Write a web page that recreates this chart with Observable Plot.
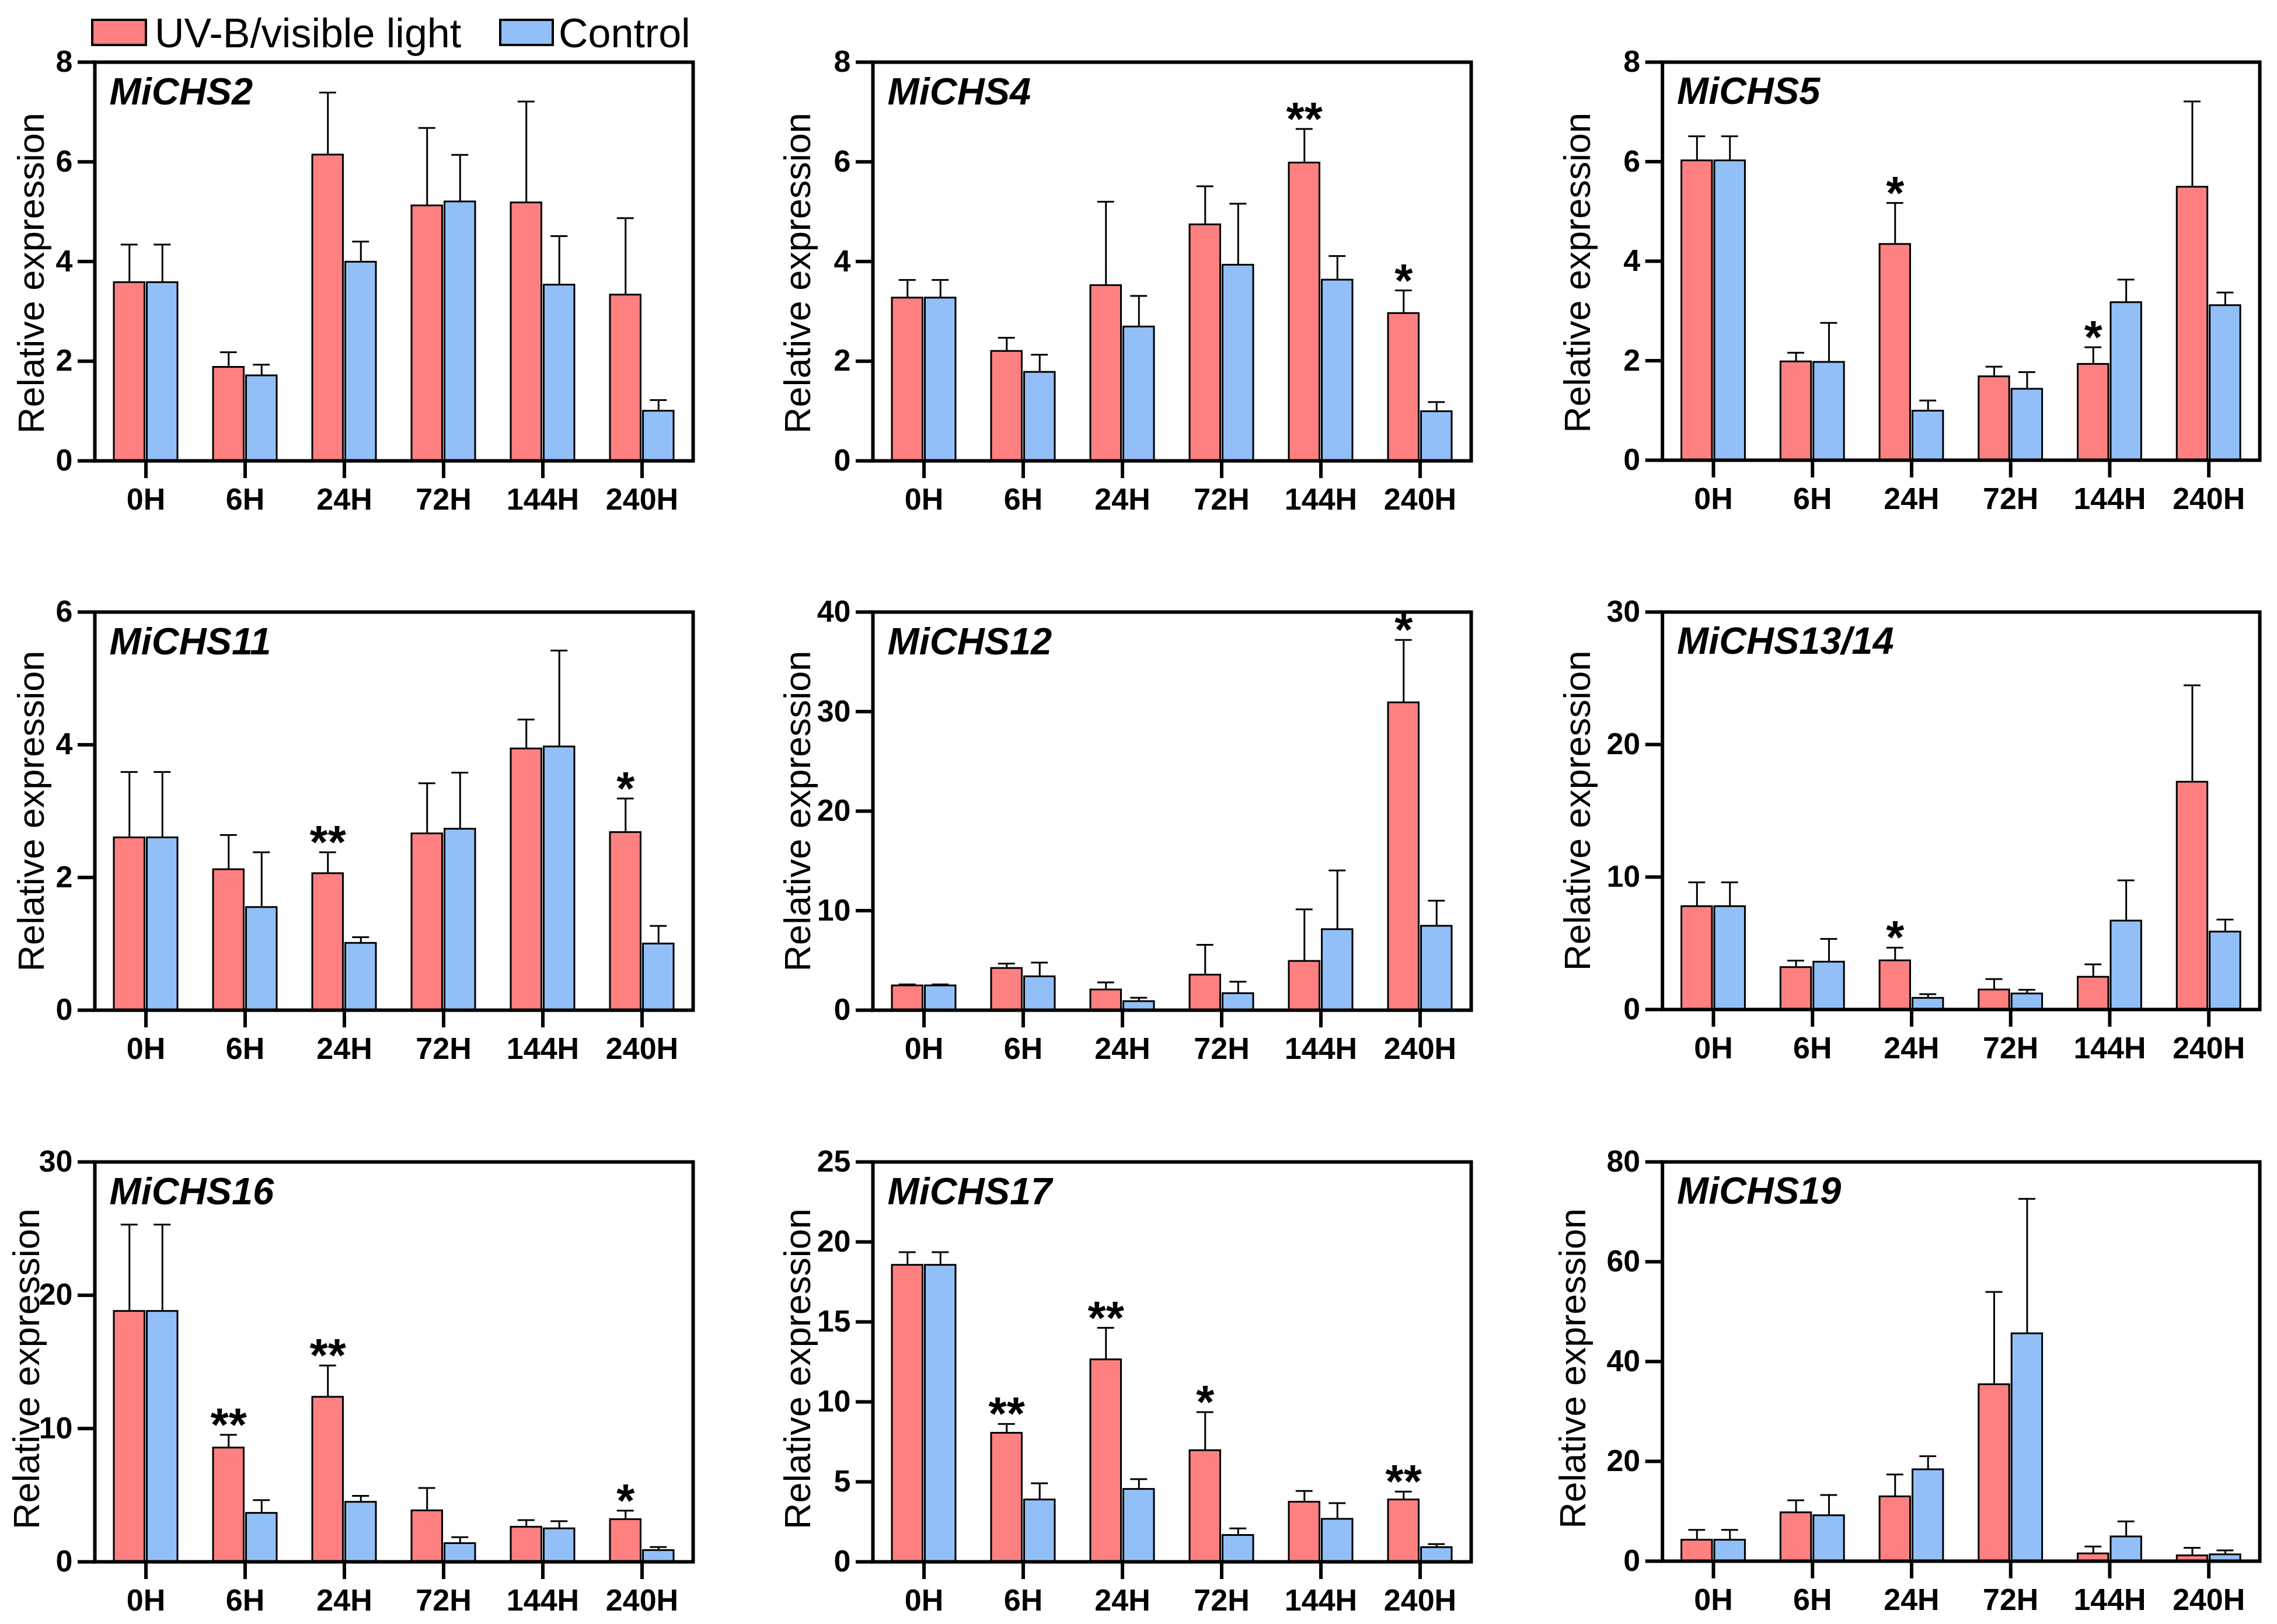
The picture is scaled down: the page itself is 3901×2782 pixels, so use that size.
<!DOCTYPE html>
<html>
<head>
<meta charset="utf-8">
<script src="https://cdn.jsdelivr.net/npm/d3@7"></script>
<script src="https://cdn.jsdelivr.net/npm/@observablehq/plot@0.6"></script>
<style>
  html, body { margin: 0; padding: 0; background: #ffffff; }
  #page { position: relative; width: 3901px; height: 2782px; background: #ffffff; overflow: hidden;
          font-family: "Liberation Sans", Arial, Helvetica, sans-serif; }
  .panel { position: absolute; }
  .panel svg { overflow: visible; }
  #legend { position: absolute; left: 0; top: 0; }
</style>
</head>
<body>
<div id="page"></div>
<script>
// ---------------- data ----------------
const times = ["0H", "6H", "24H", "72H", "144H", "240H"];
const genes = ["MiCHS2", "MiCHS4", "MiCHS5", "MiCHS11", "MiCHS12", "MiCHS13/14", "MiCHS16", "MiCHS17", "MiCHS19"];
const seriesNames = ["UV-B/visible light", "Control"];

// UV-B/visible light means, one row per gene
const uvMean = [
  [3.58, 1.88, 6.14, 5.12, 5.18, 3.33],
  [3.27, 2.20, 3.52, 4.74, 5.98, 2.96],
  [6.02, 1.98, 4.34, 1.68, 1.93, 5.49],
  [2.60, 2.12, 2.06, 2.66, 3.94, 2.68],
  [2.46, 4.21, 2.05, 3.54, 4.92, 30.9],
  [7.78, 3.18, 3.69, 1.49, 2.45, 17.17],
  [18.8, 8.55, 12.36, 3.84, 2.61, 3.18],
  [18.55, 8.05, 12.64, 6.96, 3.74, 3.88],
  [4.24, 9.73, 12.93, 35.4, 1.50, 1.11]
];
// UV-B/visible light error (SD)
const uvErr = [
  [0.76, 0.30, 1.25, 1.56, 2.03, 1.54],
  [0.36, 0.27, 1.68, 0.77, 0.68, 0.46],
  [0.49, 0.18, 0.83, 0.20, 0.34, 1.72],
  [0.99, 0.52, 0.32, 0.76, 0.44, 0.51],
  [0.13, 0.47, 0.74, 3.03, 5.21, 6.30],
  [1.82, 0.51, 0.98, 0.81, 0.96, 7.30],
  [6.50, 0.98, 2.37, 1.70, 0.52, 0.66],
  [0.81, 0.57, 1.99, 2.40, 0.69, 0.51],
  [2.03, 2.47, 4.44, 18.55, 1.44, 1.57]
];
// Control means
const ctrlMean = [
  [3.58, 1.71, 3.99, 5.20, 3.53, 1.00],
  [3.27, 1.78, 2.69, 3.93, 3.63, 0.99],
  [6.02, 1.97, 0.99, 1.43, 3.17, 3.11],
  [2.60, 1.55, 1.01, 2.73, 3.97, 1.00],
  [2.46, 3.37, 0.88, 1.68, 8.11, 8.45],
  [7.78, 3.59, 0.86, 1.19, 6.69, 5.86],
  [18.8, 3.65, 4.48, 1.38, 2.49, 0.86],
  [18.55, 3.88, 4.54, 1.66, 2.67, 0.90],
  [4.24, 9.14, 18.35, 45.6, 4.90, 1.31]
];
// Control error (SD)
const ctrlErr = [
  [0.76, 0.22, 0.41, 0.94, 0.98, 0.22],
  [0.36, 0.35, 0.62, 1.23, 0.48, 0.19],
  [0.49, 0.79, 0.21, 0.34, 0.46, 0.26],
  [0.99, 0.83, 0.09, 0.85, 1.45, 0.27],
  [0.13, 1.41, 0.37, 1.18, 5.93, 2.55],
  [1.82, 1.74, 0.30, 0.30, 3.06, 0.93],
  [6.50, 0.98, 0.47, 0.47, 0.56, 0.25],
  [0.81, 1.03, 0.63, 0.43, 1.00, 0.21],
  [2.03, 4.12, 2.68, 27.0, 3.07, 0.85]
];
// significance marks above the UV-B bars
const significance = [
  ["", "", "", "", "", ""],
  ["", "", "", "", "**", "*"],
  ["", "", "*", "", "*", ""],
  ["", "", "**", "", "", "*"],
  ["", "", "", "", "", "*"],
  ["", "", "*", "", "", ""],
  ["", "**", "**", "", "", "*"],
  ["", "**", "**", "*", "", "**"],
  ["", "", "", "", "", ""]
];
// y tick labels per gene
const yTicks = [
  [0, 2, 4, 6, 8],
  [0, 2, 4, 6, 8],
  [0, 2, 4, 6, 8],
  [0, 2, 4, 6],
  [0, 10, 20, 30, 40],
  [0, 10, 20, 30],
  [0, 10, 20, 30],
  [0, 5, 10, 15, 20, 25],
  [0, 20, 40, 60, 80]
];

// ---------------- style / layout ----------------
const colors = ["#FF8080", "#92BFF7"];
const FONT = "'Liberation Sans', Arial, Helvetica, sans-serif";
const colLeft = [162, 1495, 2848];
const rowTop = [106, 1048, 1990];
const frameW = 1025;
const frameHByRow = [683, 682, 685];
const labelDxByPanel = [-88, -108, -124, -88, -108, -124, -96, -108, -132];
const labelDyByRow = [20, 0, 12];
const pad = 0.356;
const mL = 220, mR = 30, mT = 30, mB = 130;

const page = document.getElementById("page");

genes.forEach((gene, i) => {
  const r = Math.floor(i / 3), c = i % 3;
  const frameH = frameHByRow[r];
  const rows = times.map((t, j) => ({
    time: t,
    uv: uvMean[i][j],
    uvTop: uvMean[i][j] + uvErr[i][j],
    ctrl: ctrlMean[i][j],
    ctrlTop: ctrlMean[i][j] + ctrlErr[i][j],
    sig: significance[i][j]
  }));
  const step = frameW / times.length;
  const bw = step * (1 - pad);
  const half = bw / 2;
  const off = (half + 1.5) / 2;       // centre of each half bar from band centre
  const capInset = (bw - 30) / 2;     // cap width 30px
  const ticks = yTicks[i];

  const chart = Plot.plot({
    width: frameW + mL + mR,
    height: frameH + mT + mB,
    marginLeft: mL, marginRight: mR, marginTop: mT, marginBottom: mB,
    style: { fontFamily: FONT, background: "transparent", color: "black", overflow: "visible" },
    x: { type: "band", domain: times, paddingInner: pad, paddingOuter: pad / 2 },
    y: { domain: [0, ticks[ticks.length - 1]] },
    marks: [
      Plot.barY(rows, { x: "time", y: "uv", fill: colors[0], stroke: "black", strokeWidth: 3, insetRight: half + 1.5 }),
      Plot.barY(rows, { x: "time", y: "ctrl", fill: colors[1], stroke: "black", strokeWidth: 3, insetLeft: half + 1.5 }),
      Plot.ruleX(rows, { x: "time", y1: "uv", y2: "uvTop", dx: -off, stroke: "black", strokeWidth: 3 }),
      Plot.ruleX(rows, { x: "time", y1: "ctrl", y2: "ctrlTop", dx: off, stroke: "black", strokeWidth: 3 }),
      Plot.tickY(rows, { x: "time", y: "uvTop", dx: -off, insetLeft: capInset, insetRight: capInset, stroke: "black", strokeWidth: 3 }),
      Plot.tickY(rows, { x: "time", y: "ctrlTop", dx: off, insetLeft: capInset, insetRight: capInset, stroke: "black", strokeWidth: 3 }),
      Plot.frame({ stroke: "black", strokeWidth: 6 }),
      Plot.axisX({ tickSize: 30, tickPadding: 17, fontSize: 52, fontWeight: "bold", strokeWidth: 6, label: null }),
      Plot.axisY({ ticks: ticks, tickSize: 29, tickPadding: 9, fontSize: 52, fontWeight: "bold", strokeWidth: 6, label: null, tickFormat: d => String(d) }),
      Plot.text(rows.filter(d => d.sig), { x: "time", y: "uvTop", text: "sig", dx: -off, dy: 10, lineAnchor: "bottom", fontSize: 80, fontWeight: "bold", fill: "black" }),
      Plot.text([gene], { frameAnchor: "top-left", text: d => d, textAnchor: "start", lineAnchor: "top", dx: 25, dy: 26, fontSize: 65, fontWeight: "bold", fontStyle: "italic", fill: "black" }),
      Plot.text(["Relative expression"], { frameAnchor: "left", text: d => d, rotate: -90, textAnchor: "middle", lineAnchor: "bottom", dx: labelDxByPanel[i], dy: labelDyByRow[r], fontSize: 63, fill: "black" })
    ]
  });
  const div = document.createElement("div");
  div.className = "panel";
  div.style.left = (colLeft[c] - mL) + "px";
  div.style.top = (rowTop[r] - mT) + "px";
  div.appendChild(chart);
  page.appendChild(div);
});

// ---------------- legend ----------------
const ns = "http://www.w3.org/2000/svg";
const leg = document.createElementNS(ns, "svg");
leg.setAttribute("id", "legend");
leg.setAttribute("width", "1300");
leg.setAttribute("height", "110");
const legendItems = [
  { name: seriesNames[0], color: colors[0], rx: 158, rw: 92, tx: 265 },
  { name: seriesNames[1], color: colors[1], rx: 857, rw: 90, tx: 957 }
];
legendItems.forEach(it => {
  const rect = document.createElementNS(ns, "rect");
  rect.setAttribute("x", it.rx); rect.setAttribute("y", 34);
  rect.setAttribute("width", it.rw); rect.setAttribute("height", 43);
  rect.setAttribute("fill", it.color); rect.setAttribute("stroke", "black"); rect.setAttribute("stroke-width", 4);
  leg.appendChild(rect);
  const t = document.createElementNS(ns, "text");
  t.setAttribute("x", it.tx); t.setAttribute("y", 81);
  t.setAttribute("font-family", FONT); t.setAttribute("font-size", 70);
  t.setAttribute("fill", "black");
  t.textContent = it.name;
  leg.appendChild(t);
});
page.appendChild(leg);
</script>
</body>
</html>
